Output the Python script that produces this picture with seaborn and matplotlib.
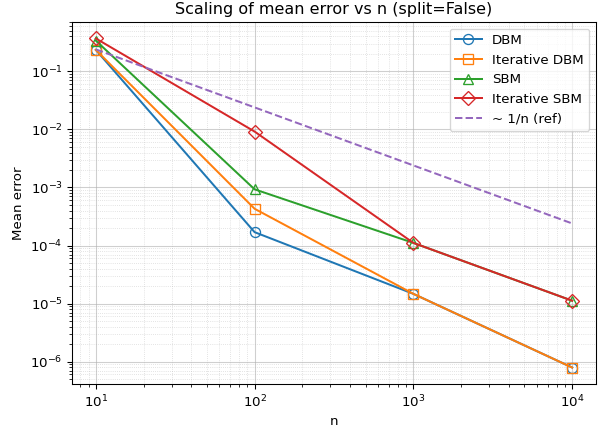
import matplotlib
matplotlib.use("Agg")
import matplotlib.pyplot as plt
import seaborn as sns
import pandas as pd
import numpy as np

n_values = [10, 100, 1000, 10000]
dbm = [0.235, 1.7e-4, 1.47e-5, 7.9e-7]
iter_dbm = [0.235, 4.3e-4, 1.47e-5, 7.9e-7]
sbm = [0.34, 9.3e-4, 1.11e-4, 1.12e-5]
iter_sbm = [0.37, 9.2e-3, 1.11e-4, 1.12e-5]
ref = [0.24, 0.024, 0.0024, 2.4e-4]

series = [
    ("DBM", dbm, "o", "#1f77b4"),
    ("Iterative DBM", iter_dbm, "s", "#ff7f0e"),
    ("SBM", sbm, "^", "#2ca02c"),
    ("Iterative SBM", iter_sbm, "D", "#d62728"),
]

DPI = 96
fig, ax = plt.subplots(figsize=(599 / DPI, 431 / DPI), dpi=DPI)

for name, vals, mk, col in series:
    df = pd.DataFrame({"n": n_values, "err": vals})
    sns.lineplot(data=df, x="n", y="err", ax=ax, label=name, color=col,
                 marker=mk, markersize=7.5 if mk != "D" else 7,
                 markerfacecolor="none", markeredgecolor=col,
                 markeredgewidth=1.0, linewidth=1.5)

dfr = pd.DataFrame({"n": n_values, "err": ref})
sns.lineplot(data=dfr, x="n", y="err", ax=ax, label="~ 1/n (ref)",
             color="#9467bd", linestyle="--", linewidth=1.5)

ax.set_xscale("log")
ax.set_yscale("log")
ax.grid(True, which="major", linestyle="-", linewidth=0.8, color="#b0b0b0", alpha=0.6)
ax.grid(True, which="minor", linestyle=":", linewidth=0.6, color="#b0b0b0", alpha=0.5)
ax.set_xlabel("n")
ax.set_ylabel("Mean error")
ax.set_title("Scaling of mean error vs n (split=False)")
ax.legend(loc="upper right")
fig.subplots_adjust(left=72 / 599, right=596 / 599, top=1 - 22 / 431, bottom=1 - 384 / 431)
fig.savefig("out.png", dpi=DPI)
